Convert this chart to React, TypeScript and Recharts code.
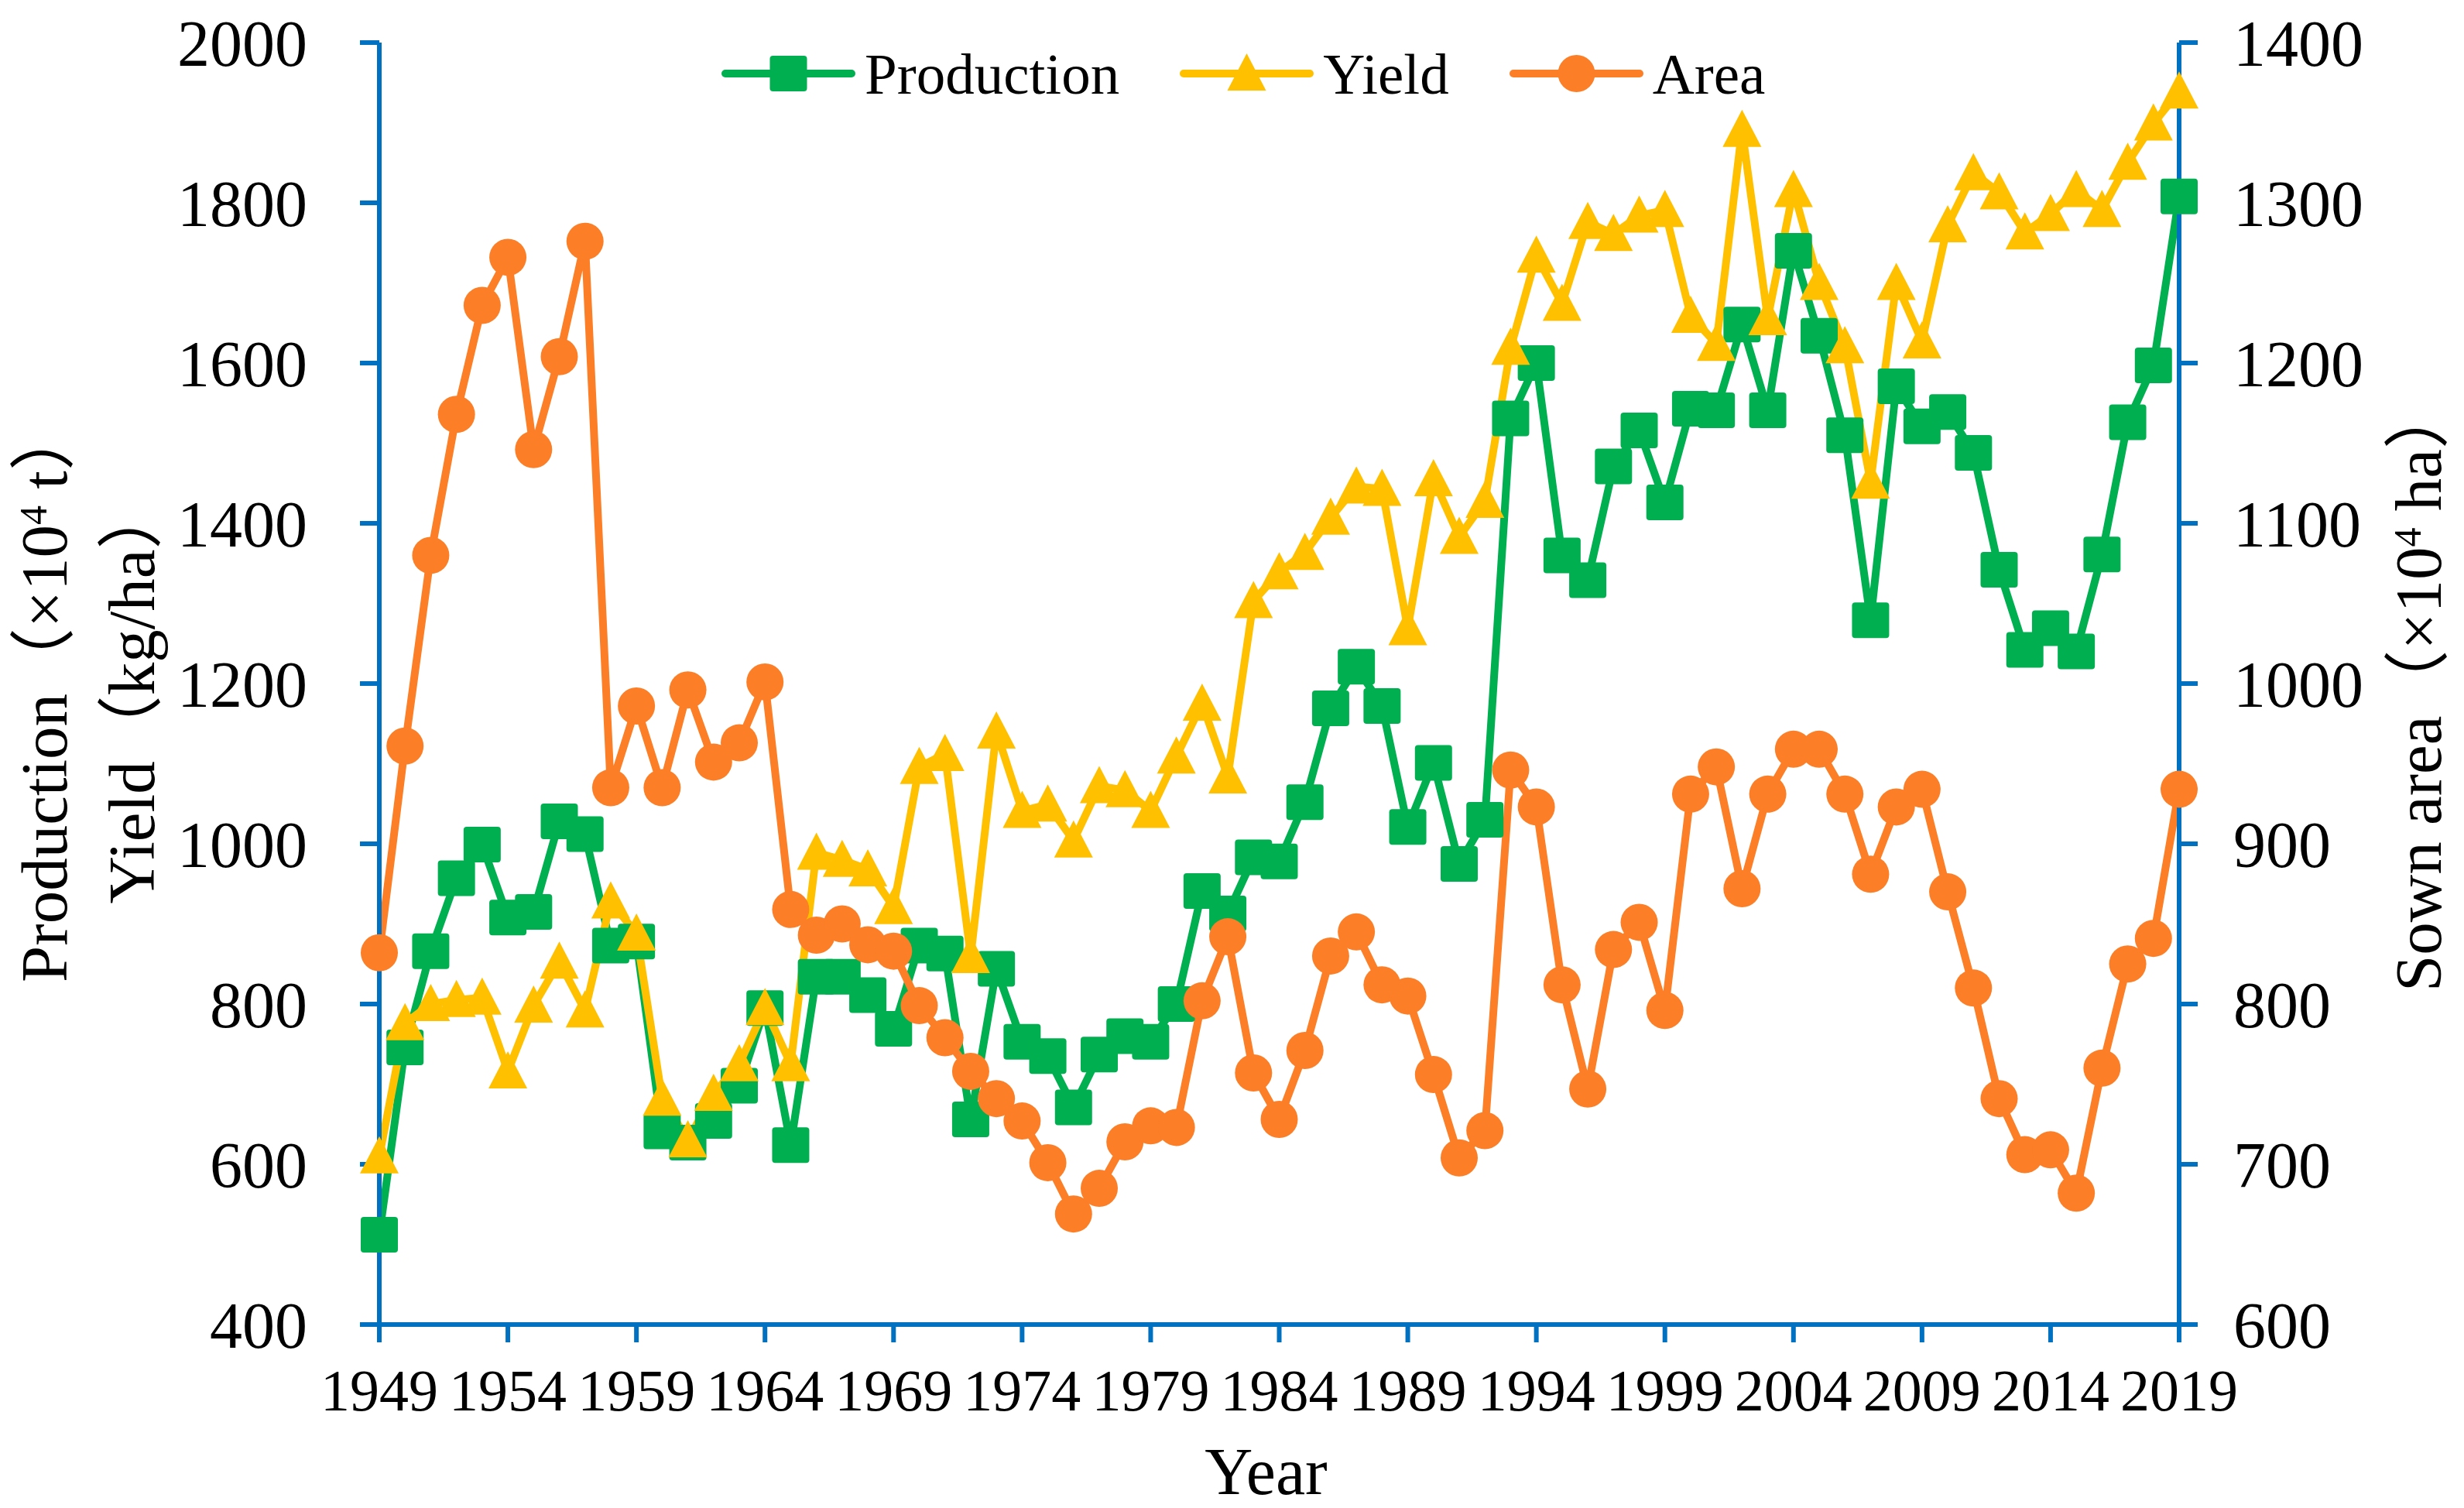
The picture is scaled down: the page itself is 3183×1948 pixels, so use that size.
import { LineChart, Line, XAxis, YAxis, Legend } from 'recharts';

const years = [
  1949, 1950, 1951, 1952, 1953, 1954, 1955, 1956, 1957, 1958,
  1959, 1960, 1961, 1962, 1963, 1964, 1965, 1966, 1967, 1968,
  1969, 1970, 1971, 1972, 1973, 1974, 1975, 1976, 1977, 1978,
  1979, 1980, 1981, 1982, 1983, 1984, 1985, 1986, 1987, 1988,
  1989, 1990, 1991, 1992, 1993, 1994, 1995, 1996, 1997, 1998,
  1999, 2000, 2001, 2002, 2003, 2004, 2005, 2006, 2007, 2008,
  2009, 2010, 2011, 2012, 2013, 2014, 2015, 2016, 2017, 2018,
  2019,
];

// production, 10^4 t
const production = [
  512, 746, 866, 957, 999, 908, 915, 1028, 1012, 873,
  878, 641, 627, 654, 698, 795, 624, 834, 834, 811,
  769, 873, 863, 656, 844, 753, 735, 671, 737, 760,
  753, 800, 941, 913, 983, 978, 1052, 1169, 1221, 1172,
  1021, 1101, 975, 1030, 1531, 1600, 1360, 1329, 1471, 1516,
  1426, 1543, 1541, 1648, 1541, 1740, 1634, 1510, 1279, 1571,
  1521, 1539, 1488, 1342, 1242, 1269, 1240, 1361, 1526, 1597,
  1808,
];

// yield, kg/ha
const yieldKg = [
  610, 776, 800, 805, 808, 716, 798, 853, 792, 928,
  888, 682, 630, 688, 725, 795, 725, 989, 980, 968,
  921, 1096, 1112, 860, 1140, 1041, 1049, 1004, 1072, 1067,
  1041, 1109, 1175, 1084, 1303, 1339, 1363, 1407, 1446, 1443,
  1269, 1455, 1383, 1428, 1619, 1734, 1674, 1776, 1761, 1784,
  1791, 1659, 1624, 1891, 1656, 1816, 1700, 1621, 1452, 1700,
  1627, 1772, 1837, 1813, 1763, 1786, 1816, 1791, 1850, 1899,
  1939,
];

// sown area, 10^4 ha
const area = [
  832, 961, 1080, 1168, 1236, 1266, 1146, 1204, 1276, 935,
  986, 935, 996, 951, 963, 1001, 859, 843, 850, 837,
  833, 799, 779, 758, 741, 727, 701, 669, 685, 714,
  724, 723, 802, 842, 757, 728, 771, 830, 845, 812,
  805, 756, 704, 721, 946, 923, 812, 747, 834, 851,
  796, 931, 948, 872, 931, 959, 959, 931, 881, 923,
  934, 870, 810, 741, 706, 709, 682, 760, 825, 841,
  934,
];

const yearTicks = [1949, 1954, 1959, 1964, 1969, 1974, 1979, 1984, 1989, 1994, 1999, 2004, 2009, 2014, 2019];
const leftTicks = [400, 600, 800, 1000, 1200, 1400, 1600, 1800, 2000];
const rightTicks = [600, 700, 800, 900, 1000, 1100, 1200, 1300, 1400];

const data = years.map((year, i) => ({
  year,
  production: production[i],
  yield: yieldKg[i],
  area: area[i],
}));

const FONT = "'Times New Roman', 'Liberation Serif', 'Noto Sans CJK SC', serif";
const AXIS = '#0070C0';
const GREEN = '#00B050';
const GOLD = '#FFC000';
const ORANGE = '#FC7E26';

const W = 3183;
const H = 1948;

const squareDot = (props: any) => {
  const { cx, cy, index } = props;
  if (cx == null || cy == null) return null;
  return <rect key={`p-${index}`} x={cx - 24} y={cy - 23} width={48} height={46} rx={4} fill={GREEN} />;
};

const triangleDot = (props: any) => {
  const { cx, cy, index } = props;
  if (cx == null || cy == null) return null;
  return (
    <path
      key={`y-${index}`}
      d={`M${cx},${cy - 26} L${cx + 25},${cy + 22} L${cx - 25},${cy + 22} Z`}
      fill={GOLD}
    />
  );
};

const circleDot = (props: any) => {
  const { cx, cy, index } = props;
  if (cx == null || cy == null) return null;
  return <circle key={`a-${index}`} cx={cx} cy={cy} r={24} fill={ORANGE} />;
};

const legendItems = [
  { name: 'Production', color: GREEN, shape: 'square' },
  { name: 'Yield', color: GOLD, shape: 'triangle' },
  { name: 'Area', color: ORANGE, shape: 'circle' },
];

function LegendIcon({ color, shape }: { color: string; shape: string }) {
  const cx = 86.5;
  const cy = 25;
  return (
    <svg width={173} height={50} style={{ display: 'block', overflow: 'visible' }}>
      <line x1={5} y1={cy} x2={168} y2={cy} stroke={color} strokeWidth={10} strokeLinecap="round" />
      {shape === 'square' && <rect x={cx - 24} y={cy - 23} width={48} height={46} rx={4} fill={color} />}
      {shape === 'triangle' && (
        <path d={`M${cx},${cy - 26} L${cx + 25},${cy + 22} L${cx - 25},${cy + 22} Z`} fill={color} />
      )}
      {shape === 'circle' && <circle cx={cx} cy={cy} r={24} fill={color} />}
    </svg>
  );
}

const renderLegend = () => (
  <div style={{ display: 'flex', alignItems: 'center', height: 50, fontFamily: FONT }}>
    {legendItems.map((item, i) => (
      <div
        key={item.name}
        style={{ display: 'flex', alignItems: 'center', marginLeft: i === 0 ? 0 : 78 }}
      >
        <LegendIcon color={item.color} shape={item.shape} />
        <span style={{ fontSize: 75, lineHeight: '75px', marginLeft: 12, color: '#000', whiteSpace: 'nowrap' }}>
          {item.name}
        </span>
      </div>
    ))}
  </div>
);

const titleStyle = { fontFamily: FONT, fontSize: 85, fill: '#000' };

const renderXTitle = (props: any) => {
  const vb = props.viewBox || { x: 490, y: 1711, width: 2325, height: 237 };
  return (
    <text x={vb.x + vb.width / 2 - 17} y={vb.y + 219} textAnchor="middle" style={{ ...titleStyle, fontSize: 86 }}>
      Year
    </text>
  );
};

const renderLeftTitle = (props: any) => {
  const vb = props.viewBox || { x: 0, y: 55, width: 490, height: 1656 };
  const x1 = vb.x + 86;
  const x2 = vb.x + 199;
  const cy = vb.y + 841;
  return (
    <g>
      <text x={x1} y={cy} textAnchor="middle" transform={`rotate(-90, ${x1}, ${cy})`} style={titleStyle}>
        Production（×10
        <tspan dy={-26} fontSize={50}>4</tspan>
        <tspan dy={26}> t）</tspan>
      </text>
      <text x={x2} y={cy} textAnchor="middle" transform={`rotate(-90, ${x2}, ${cy})`} style={titleStyle}>
        Yield（kg/ha）
      </text>
    </g>
  );
};

const renderRightTitle = (props: any) => {
  const vb = props.viewBox || { x: 2815, y: 55, width: 368, height: 1656 };
  const x = vb.x + 338;
  const cy = vb.y + 833;
  return (
    <text x={x} y={cy} textAnchor="middle" transform={`rotate(-90, ${x}, ${cy})`} style={titleStyle}>
      Sown area（×10
      <tspan dy={-26} fontSize={50}>4</tspan>
      <tspan dy={26}> ha）</tspan>
    </text>
  );
};

export default function App() {
  const axisLine = { stroke: AXIS, strokeWidth: 6 };
  const tickLine = { stroke: AXIS, strokeWidth: 6 };

  return (
    <div style={{ position: 'absolute', left: 0, top: 0, width: W, height: H, background: '#fff' }}>
      <LineChart width={W} height={H} data={data} margin={{ top: 55, right: 0, bottom: 0, left: 0 }}>
        <XAxis
          dataKey="year"
          type="number"
          domain={[1949, 2019]}
          ticks={yearTicks}
          interval={0}
          height={237}
          axisLine={axisLine}
          tickLine={tickLine}
          tickSize={23}
          tickMargin={34}
          tick={{ fill: '#000', fontSize: 76, fontFamily: FONT }}
          label={{ content: renderXTitle }}
        />
        <YAxis
          yAxisId="left"
          orientation="left"
          domain={[400, 2000]}
          ticks={leftTicks}
          interval={0}
          width={490}
          axisLine={axisLine}
          tickLine={tickLine}
          tickSize={25}
          tickMargin={68}
          tick={{ fill: '#000', fontSize: 84, fontFamily: FONT }}
          label={{ content: renderLeftTitle }}
        />
        <YAxis
          yAxisId="right"
          orientation="right"
          domain={[600, 1400]}
          ticks={rightTicks}
          interval={0}
          width={368}
          axisLine={axisLine}
          tickLine={tickLine}
          tickSize={24}
          tickMargin={46}
          tick={{ fill: '#000', fontSize: 84, fontFamily: FONT }}
          label={{ content: renderRightTitle }}
        />
        <Legend
          verticalAlign="middle"
          align="center"
          content={renderLegend}
          wrapperStyle={{ top: 70, left: 932, width: 'auto', height: 50 }}
        />
        <Line
          yAxisId="left"
          type="linear"
          dataKey="production"
          name="Production"
          stroke={GREEN}
          strokeWidth={10}
          dot={squareDot}
          activeDot={false}
          isAnimationActive={false}
        />
        <Line
          yAxisId="left"
          type="linear"
          dataKey="yield"
          name="Yield"
          stroke={GOLD}
          strokeWidth={10}
          dot={triangleDot}
          activeDot={false}
          isAnimationActive={false}
        />
        <Line
          yAxisId="right"
          type="linear"
          dataKey="area"
          name="Area"
          stroke={ORANGE}
          strokeWidth={10}
          dot={circleDot}
          activeDot={false}
          isAnimationActive={false}
        />
      </LineChart>
    </div>
  );
}
